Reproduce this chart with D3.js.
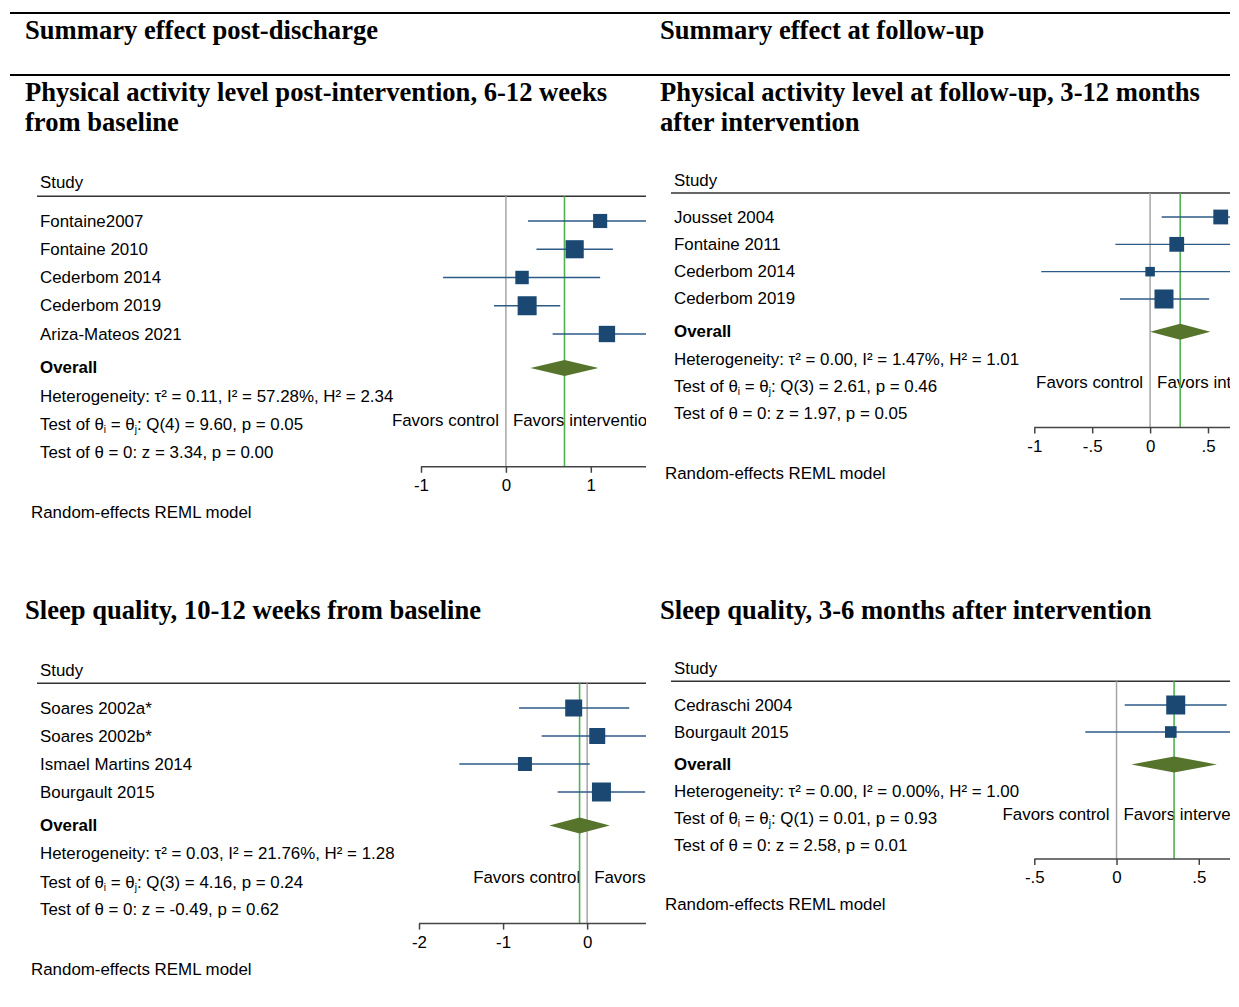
<!DOCTYPE html>
<html>
<head>
<meta charset="utf-8">
<script src="https://cdn.jsdelivr.net/npm/d3@7"></script>
<style>
  body { margin: 0; background: #fff; }
  text { font-family: "Liberation Sans", Arial, Helvetica, sans-serif; fill: #000; }
  .title { font-family: "Liberation Serif", "Times New Roman", serif; font-weight: bold; font-size: 26.6px; }
</style>
</head>
<body>
<div id="chart"></div>
<script>
// Physical activity, post-intervention
const pa1Studies = ["Fontaine2007", "Fontaine 2010", "Cederbom 2014", "Cederbom 2019", "Ariza-Mateos 2021"];
const pa1Effect = [1.11, 0.81, 0.19, 0.25, 1.19];
const pa1Lower = [0.26, 0.36, -0.74, -0.14, 0.55];
const pa1Upper = [1.96, 1.26, 1.11, 0.64, 1.83];
const pa1Weight = [14.9, 24.6, 13.5, 27.0, 20.0];
const pa1Overall = [0.69, 0.29, 1.09];
const pa1Stats = [0.11, 57.28, 2.34, 4, 9.60, 0.05, 3.34, 0.00];
const pa1Ticks = [-1, 0, 1];

// Physical activity, follow-up
const pa2Studies = ["Jousset 2004", "Fontaine 2011", "Cederbom 2014", "Cederbom 2019"];
const pa2Effect = [0.61, 0.23, 0.00, 0.12];
const pa2Lower = [0.10, -0.30, -0.94, -0.26];
const pa2Upper = [1.12, 0.76, 0.94, 0.51];
const pa2Weight = [24.6, 24.6, 10.2, 40.6];
const pa2Overall = [0.26, 0.00, 0.52];
const pa2Stats = [0.00, 1.47, 1.01, 3, 2.61, 0.46, 1.97, 0.05];
const pa2Ticks = [-1, -0.5, 0, 0.5];

// Sleep quality, post-intervention
const sq1Studies = ["Soares 2002a*", "Soares 2002b*", "Ismael Martins 2014", "Bourgault 2015"];
const sq1Effect = [-0.16, 0.12, -0.74, 0.17];
const sq1Lower = [-0.81, -0.54, -1.52, -0.35];
const sq1Upper = [0.50, 0.78, 0.03, 0.69];
const sq1Weight = [26.2, 23.2, 17.8, 32.8];
const sq1Overall = [-0.09, -0.45, 0.27];
const sq1Stats = [0.03, 21.76, 1.28, 3, 4.16, 0.24, -0.49, 0.62];
const sq1Ticks = [-2, -1, 0];

// Sleep quality, follow-up
const sq2Studies = ["Cedraschi 2004", "Bourgault 2015"];
const sq2Effect = [0.36, 0.33];
const sq2Lower = [0.05, -0.19];
const sq2Upper = [0.67, 0.85];
const sq2Weight = [72.8, 27.2];
const sq2Overall = [0.35, 0.09, 0.61];
const sq2Stats = [0.00, 0.00, 1.00, 1, 0.01, 0.93, 2.58, 0.01];
const sq2Ticks = [-0.5, 0, 0.5];

const w = 1239, h = 1007;
const fontSize = 16.9;

const f2 = d3.formatLocale({decimal: ".", thousands: ",", grouping: [3], currency: ["", ""], minus: "-"}).format(".2f");
// Stata-style tick labels: -.5, 0, .5
const tickFmt = d => d === 0 ? "0" : String(d).replace("0.", ".");

const svg = d3.select("#chart")
    .append("svg")
    .attr("width", w)
    .attr("height", h);

svg.append("rect").attr("width", w).attr("height", h).attr("fill", "#fff");

// Top rules and column headings
[13, 75].forEach(yy => {
    svg.append("line")
        .attr("x1", 10).attr("x2", 1230)
        .attr("y1", yy).attr("y2", yy)
        .attr("stroke", "#000").attr("stroke-width", 2);
});

svg.append("text").attr("class", "title").attr("x", 25).attr("y", 39).text("Summary effect post-discharge");
svg.append("text").attr("class", "title").attr("x", 660).attr("y", 39).text("Summary effect at follow-up");

function title(x, y, lines) {
    const t = svg.append("text").attr("class", "title").attr("x", x).attr("y", y);
    lines.forEach((l, i) => {
        t.append("tspan").attr("x", x).attr("dy", i === 0 ? 0 : 30).text(l);
    });
}

title(25, 101, ["Physical activity level post-intervention, 6-12 weeks", "from baseline"]);
title(660, 101, ["Physical activity level at follow-up, 3-12 months", "after intervention"]);
title(25, 619, ["Sleep quality, 10-12 weeks from baseline"]);
title(660, 619, ["Sleep quality, 3-6 months after intervention"]);

function drawForest(p) {
    const n = p.studies.length;
    const clipId = "clip-" + p.id;

    svg.append("clipPath").attr("id", clipId)
        .append("rect")
        .attr("x", p.clip[0]).attr("y", 0)
        .attr("width", p.clip[1] - p.clip[0]).attr("height", h);

    const g = svg.append("g").attr("clip-path", `url(#${clipId})`);

    const x = d3.scaleLinear().domain(p.domain).range([p.left, p.clip[1]]);
    // Row index -> vertical position
    const y = d3.scaleLinear().domain([0, 1]).range([p.top, p.top + p.step]);
    const size = d3.scaleSqrt().domain([0, d3.max(p.weights)]).range([0, 19]);

    const rowOverall = n + 0.2;
    const rowAxis = n + 3.7;
    const yHeader = y(-0.88);

    // Header
    g.append("text")
        .attr("x", p.textX).attr("y", y(-1.35))
        .attr("dominant-baseline", "central")
        .attr("font-size", fontSize)
        .text("Study");

    g.append("line")
        .attr("x1", p.textX - 3).attr("x2", p.clip[1])
        .attr("y1", yHeader).attr("y2", yHeader)
        .attr("stroke", "#333").attr("stroke-width", 1.5);

    // Study names
    g.selectAll(".study")
        .data(p.studies)
        .enter()
        .append("text")
        .attr("x", p.textX)
        .attr("y", (d, i) => y(i))
        .attr("dominant-baseline", "central")
        .attr("font-size", fontSize)
        .text(d => d);

    g.append("text")
        .attr("x", p.textX).attr("y", y(rowOverall))
        .attr("dominant-baseline", "central")
        .attr("font-size", fontSize)
        .attr("font-weight", "bold")
        .text("Overall");

    // Heterogeneity statistics
    const s = p.stats;
    g.append("text")
        .attr("x", p.textX).attr("y", y(n + 1.2))
        .attr("dominant-baseline", "central")
        .attr("font-size", fontSize)
        .text(`Heterogeneity: τ² = ${f2(s[0])}, I² = ${f2(s[1])}%, H² = ${f2(s[2])}`);

    const q = g.append("text")
        .attr("x", p.textX).attr("y", y(n + 2.2))
        .attr("dominant-baseline", "central")
        .attr("font-size", fontSize);
    q.append("tspan").text("Test of θ");
    q.append("tspan").attr("font-size", 10).attr("dy", 5).text("i");
    q.append("tspan").attr("dy", -5).text(" = θ");
    q.append("tspan").attr("font-size", 10).attr("dy", 5).text("j");
    q.append("tspan").attr("dy", -5).text(`: Q(${s[3]}) = ${f2(s[4])}, p = ${f2(s[5])}`);

    g.append("text")
        .attr("x", p.textX).attr("y", y(n + 3.2))
        .attr("dominant-baseline", "central")
        .attr("font-size", fontSize)
        .text(`Test of θ = 0: z = ${f2(s[6])}, p = ${f2(s[7])}`);

    // Favors labels around the null line (clipped at the panel edge, as in the original)
    g.append("text")
        .attr("x", x(0) - 7).attr("y", y(n + 2.05))
        .attr("dominant-baseline", "central")
        .attr("text-anchor", "end")
        .attr("font-size", fontSize)
        .text("Favors control");
    g.append("text")
        .attr("x", x(0) + 7).attr("y", y(n + 2.05))
        .attr("dominant-baseline", "central")
        .attr("font-size", fontSize)
        .text("Favors intervention");

    // Null line and overall effect line
    g.append("line")
        .attr("x1", x(0)).attr("x2", x(0))
        .attr("y1", yHeader).attr("y2", y(rowAxis))
        .attr("stroke", "#a6a6a6").attr("stroke-width", 1.5);

    g.append("line")
        .attr("x1", x(p.overall[0])).attr("x2", x(p.overall[0]))
        .attr("y1", yHeader).attr("y2", y(rowAxis))
        .attr("stroke", "#52b152").attr("stroke-width", 1.6);

    // Confidence intervals
    g.selectAll(".ci")
        .data(p.effect)
        .enter()
        .append("line")
        .attr("x1", (d, i) => x(p.lower[i]))
        .attr("x2", (d, i) => x(p.upper[i]))
        .attr("y1", (d, i) => y(i))
        .attr("y2", (d, i) => y(i))
        .attr("stroke", "#2d5b88")
        .attr("stroke-width", 1.4);

    // Study squares sized by weight
    g.selectAll(".sq")
        .data(p.effect)
        .enter()
        .append("rect")
        .attr("x", (d, i) => x(d) - size(p.weights[i]) / 2)
        .attr("y", (d, i) => y(i) - size(p.weights[i]) / 2)
        .attr("width", (d, i) => size(p.weights[i]))
        .attr("height", (d, i) => size(p.weights[i]))
        .attr("fill", "#1a4872");

    // Overall diamond
    const yo = y(rowOverall);
    g.append("path")
        .attr("d", `M${x(p.overall[1])},${yo} L${x(p.overall[0])},${yo - 8} L${x(p.overall[2])},${yo} L${x(p.overall[0])},${yo + 8} Z`)
        .attr("fill", "#56742c");

    // Axis
    const axis = d3.axisBottom(x)
        .tickValues(p.ticks)
        .tickFormat(tickFmt)
        .tickSize(6)
        .tickSizeOuter(0);

    const ag = g.append("g")
        .attr("transform", `translate(0, ${y(rowAxis)})`)
        .call(axis);
    ag.select(".domain").attr("stroke", "#444").attr("stroke-width", 1.5)
        .attr("d", `M${p.left},0H${p.clip[1]}`);
    ag.selectAll(".tick line").attr("stroke", "#444").attr("stroke-width", 1.5);
    ag.selectAll(".tick text")
        .attr("font-size", fontSize)
        .attr("font-family", "Liberation Sans, Arial, sans-serif")
        .attr("fill", "#000")
        .attr("dy", "0.9em");

    svg.append("text")
        .attr("x", p.textX - 9).attr("y", y(rowAxis) + 46)
        .attr("dominant-baseline", "central")
        .attr("font-size", fontSize)
        .text("Random-effects REML model");
}

drawForest({
    id: "pa1", studies: pa1Studies, effect: pa1Effect, lower: pa1Lower, upper: pa1Upper,
    weights: pa1Weight, overall: pa1Overall, stats: pa1Stats, ticks: pa1Ticks,
    domain: [-1, 1.65], left: 421, clip: [0, 646], textX: 40, top: 221, step: 28.25
});

drawForest({
    id: "pa2", studies: pa2Studies, effect: pa2Effect, lower: pa2Lower, upper: pa2Upper,
    weights: pa2Weight, overall: pa2Overall, stats: pa2Stats, ticks: pa2Ticks,
    domain: [-1, 0.69], left: 1034.3, clip: [650, 1230], textX: 674, top: 217, step: 27.33
});

drawForest({
    id: "sq1", studies: sq1Studies, effect: sq1Effect, lower: sq1Lower, upper: sq1Upper,
    weights: sq1Weight, overall: sq1Overall, stats: sq1Stats, ticks: sq1Ticks,
    domain: [-2, 0.7], left: 419, clip: [0, 646], textX: 40, top: 708, step: 28
});

drawForest({
    id: "sq2", studies: sq2Studies, effect: sq2Effect, lower: sq2Lower, upper: sq2Upper,
    weights: sq2Weight, overall: sq2Overall, stats: sq2Stats, ticks: sq2Ticks,
    domain: [-0.5, 0.69], left: 1034.3, clip: [650, 1230], textX: 674, top: 705, step: 27
});
</script>
</body>
</html>
